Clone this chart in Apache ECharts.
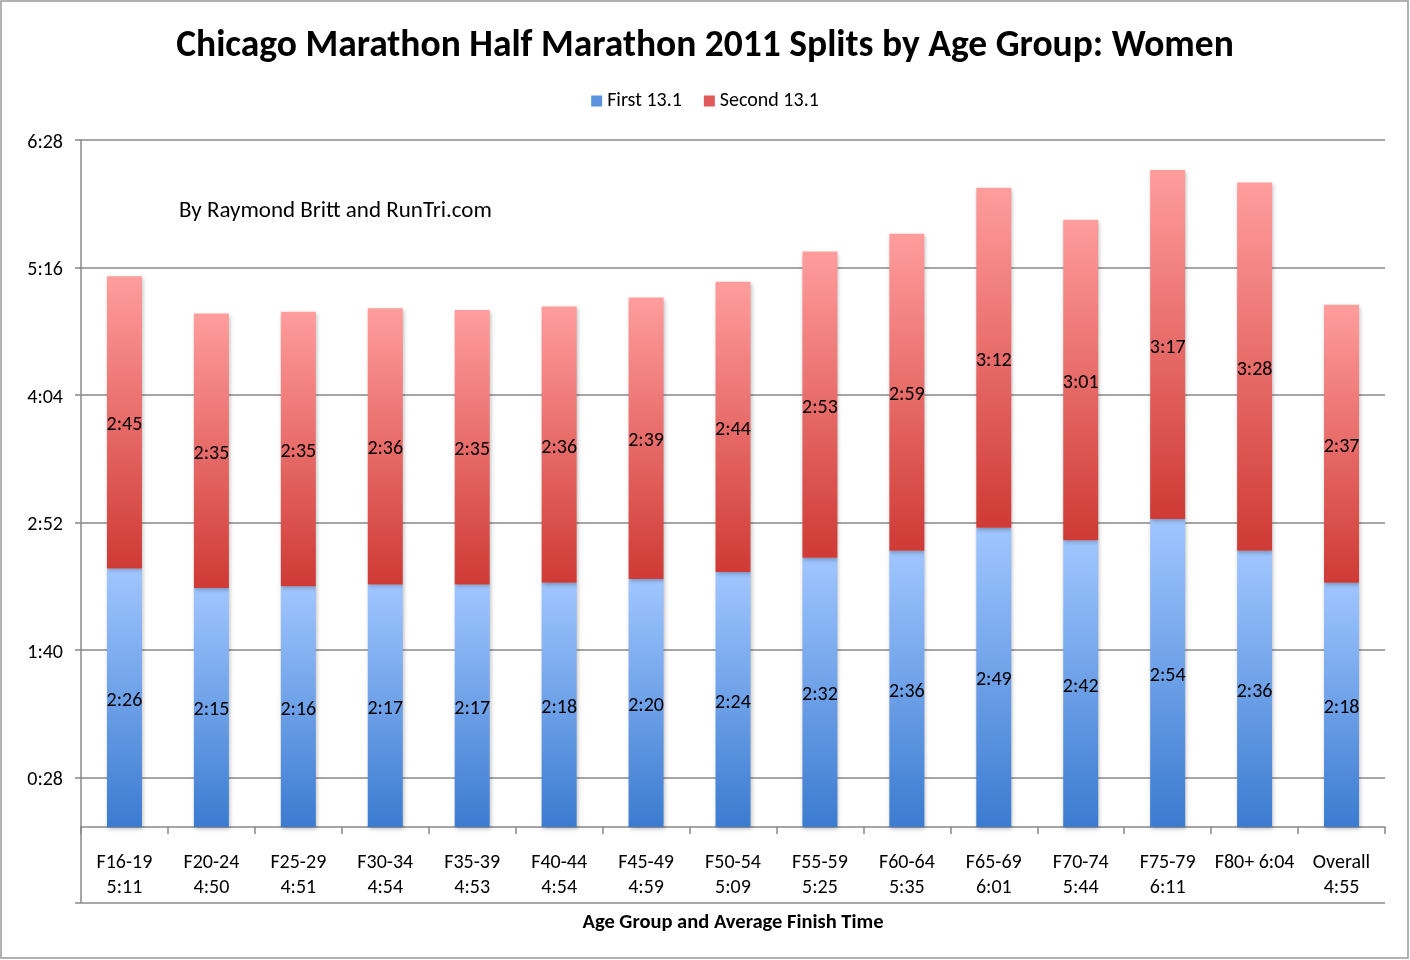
<!DOCTYPE html>
<html><head><meta charset="utf-8">
<script src="https://cdn.jsdelivr.net/npm/echarts@6/dist/echarts.min.js"></script>
<style>html,body{margin:0;padding:0;background:#fff}#c{width:1410px;height:960px}</style>
</head><body><div id="c"></div>
<script>
const categories = ['F16-19\n5:11','F20-24\n4:50','F25-29\n4:51','F30-34\n4:54','F35-39\n4:53','F40-44\n4:54','F45-49\n4:59','F50-54\n5:09','F55-59\n5:25','F60-64\n5:35','F65-69\n6:01','F70-74\n5:44','F75-79\n6:11','F80+ 6:04','Overall\n4:55'];
const firstHalf = ['2:26','2:15','2:16','2:17','2:17','2:18','2:20','2:24','2:32','2:36','2:49','2:42','2:54','2:36','2:18'];
const secondHalf = ['2:45','2:35','2:35','2:36','2:35','2:36','2:39','2:44','2:53','2:59','3:12','3:01','3:17','3:28','2:37'];
const yTicks = ['0:28','1:40','2:52','4:04','5:16','6:28'];

const toMin = s => { const p = s.split(':'); return (+p[0])*60 + (+p[1]); };
const fmt = v => Math.floor(v/60) + ':' + String(Math.round(v%60)).padStart(2,'0');
const tickVals = yTicks.map(toMin);
const F = 'Carlito, Calibri, "Open Sans", sans-serif';

const chart = echarts.init(document.getElementById('c'));
const grid = {left:81, right:25, top:140, bottom:133};
const grad = (a,b) => new echarts.graphic.LinearGradient(0,0,0,1,[{offset:0,color:a},{offset:1,color:b}]);
chart.setOption({
  animation:false,
  backgroundColor:'#fff',
  title:{text:'Chicago Marathon Half Marathon 2011 Splits by Age Group: Women', left:'center', top:23,
    textStyle:{fontFamily:F, fontSize:37.5, fontWeight:'bold', color:'#000'}},
  legend:{top:86, left:'center', itemWidth:11, itemHeight:11, itemGap:22, icon:'rect',
    textStyle:{fontFamily:F, fontSize:20, color:'#000'},
    data:[{name:'First 13.1', itemStyle:{color:'#5a92e0'}},{name:'Second 13.1', itemStyle:{color:'#e05a5a'}}]},
  grid:grid,
  xAxis:{type:'category', data:categories,
    name:'Age Group and Average Finish Time', nameLocation:'middle', nameGap:85,
    nameTextStyle:{fontFamily:F, fontSize:20.5, fontWeight:'bold', color:'#000'},
    axisLine:{lineStyle:{color:'#888', width:1.5}},
    axisTick:{show:true, length:7, lineStyle:{color:'#888', width:1.5}, inside:false},
    axisLabel:{fontFamily:F, fontSize:20, color:'#000', margin:23, lineHeight:25, interval:0}},
  yAxis:{type:'value', min:0, max:388,
    axisLine:{show:true, lineStyle:{color:'#888', width:1.5}},
    axisTick:{show:true, length:6, customValues:tickVals, lineStyle:{color:'#888', width:1.5}},
    axisLabel:{customValues:tickVals, formatter:v=>'{a|' + fmt(v) + '}', color:'#000', margin:18,
      rich:{a:{fontFamily:F, fontSize:20, color:'#000', padding:[6,0,0,0]}}},
    splitLine:{show:true, lineStyle:{color:'#888', width:1.5}}},
  graphic:[
    {type:'text', left:179, top:200, style:{text:'By Raymond Britt and RunTri.com', font:'23px '+F, fill:'#000'}},
    {type:'line', shape:{x1:75, y1:903, x2:1385, y2:903}, style:{stroke:'#888', lineWidth:1.5}},
    {type:'line', shape:{x1:81, y1:827, x2:81, y2:903}, style:{stroke:'#888', lineWidth:1.5}},
    {type:'rect', shape:{x:1, y:1, width:1407, height:957}, style:{fill:'none', stroke:'#999', lineWidth:1.5}, z:-1}
  ],
  series:[
    {name:'First 13.1', type:'bar', stack:'t', barWidth:35, data:firstHalf.map(toMin),
      itemStyle:{color:grad('#a0c6ff','#3b7bd0'), shadowColor:'rgba(0,0,0,0.25)', shadowBlur:4, shadowOffsetX:1, shadowOffsetY:2},
      label:{show:true, position:'inside', offset:[0,3], formatter:p=>fmt(p.value), fontFamily:F, fontSize:20, color:'#000'}},
    {name:'Second 13.1', type:'bar', stack:'t', barWidth:35, data:secondHalf.map(toMin),
      itemStyle:{color:grad('#ff9d9d','#cf3a35'), shadowColor:'rgba(0,0,0,0.25)', shadowBlur:4, shadowOffsetX:1, shadowOffsetY:2},
      label:{show:true, position:'inside', offset:[0,3], formatter:p=>fmt(p.value), fontFamily:F, fontSize:20, color:'#000'}}
  ]
});
</script></body></html>
